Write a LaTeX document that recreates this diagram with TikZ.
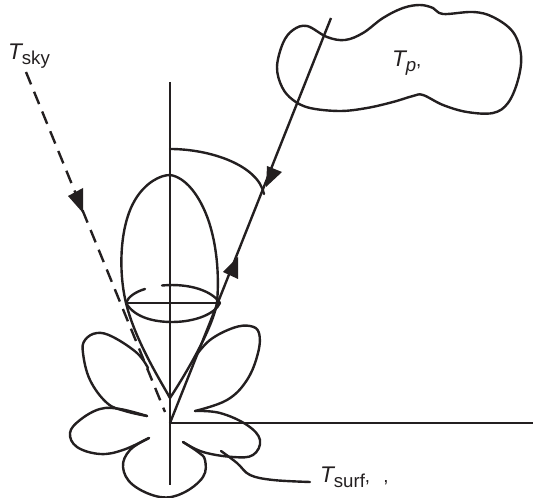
\documentclass[tikz,border=0pt]{standalone}
\usepackage{fontspec}
\setmainfont{Liberation Sans}
\definecolor{ink}{HTML}{231F20}
\newcommand{\lblT}[2]{{\fontsize{17}{18}\selectfont\itshape T}\raisebox{-3.4pt}{\fontsize{14}{15}\selectfont #1}{\fontsize{14}{15}\selectfont #2}}
\tikzset{
  curve/.style={draw=ink,line width=1.8pt,line cap=round,line join=round},
  dashline/.style={curve,line cap=butt,dash pattern=on 10pt off 6pt},
  head/.style={fill=ink,draw=none},
  lbl/.style={inner sep=0pt,outer sep=0pt,text=ink,anchor=base west}
}
\begin{document}
\begin{tikzpicture}[x=0.75pt,y=-0.75pt]
\useasboundingbox (0,0) rectangle (533,498);
% named points
\coordinate (O) at (170,423);
\coordinate (axisTop) at (170,82);
\coordinate (axisBot) at (170,485);
\coordinate (horizEnd) at (533,423);
\coordinate (rayEnd) at (331,18);
\coordinate (skyStart) at (26,72);
\coordinate (skyEnd) at (165,412);
\coordinate (lobeTip) at (170,398);
\coordinate (arcStart) at (170,149);
\coordinate (arcEnd) at (264,194);
% axes and rays
\draw[curve,line cap=butt] (axisTop) -- (axisBot);
\draw[curve,line cap=butt] (O) -- (horizEnd);
\draw[curve,line cap=butt] (rayEnd) -- (O);
\draw[dashline] (skyStart) -- (skyEnd);
% arrowheads
\fill[head] (266,187) -- (267,166) -- (282,172) -- cycle;
\fill[head] (238,257) -- (223,272) -- (238,279) -- cycle;
\fill[head] (83,213) -- (68,196) -- (83,188) -- cycle;
% angle arc
\draw[curve] (arcStart) .. controls (210,149) and (258,165) .. (arcEnd);
% main lobe
\draw[curve] (lobeTip) .. controls (160,380) and (135,340) .. (126,303)
  .. controls (118,270) and (120,225) .. (135,200)
  .. controls (145,183) and (160,175) .. (170,175)
  .. controls (185,177) and (200,195) .. (209,222)
  .. controls (218,250) and (219,280) .. (217,303)
  .. controls (212,330) and (185,375) .. cycle;
% cut ellipse
\draw[curve] (126,303) -- (220,303);
\draw[curve] (126,303) .. controls (135,318) and (155,322) .. (172,322)
  .. controls (195,322) and (215,314) .. (220,303);
\draw[curve] (126,303) .. controls (128,297) and (135,292) .. (145,289);
\draw[curve] (162,285.5) .. controls (190,283) and (212,291) .. (220,303);
% side lobes
\draw[curve] plot[smooth,tension=0.65] coordinates {(148,368) (137,353) (113,337) (97,333) (85,340) (83,353) (90,380) (107,403) (125,411) (147,416)};
\draw[curve] plot[smooth,tension=0.65] coordinates {(195,357) (210,340) (233,328) (250,326) (259,333) (258,353) (247,380) (227,400) (195,411)};
\draw[curve] plot[smooth,tension=0.65] coordinates {(147,416) (120,409) (100,409) (80,420) (70,433) (77,447) (100,454) (123,450) (149,438)};
\draw[curve] plot[smooth,tension=0.65] coordinates {(149,438) (130,450) (123,467) (133,485) (160,497) (183,493) (203,477) (205,460) (198,452) (183,442)};
\draw[curve] plot[smooth,tension=0.65] coordinates {(195,411) (220,413) (247,425) (260,440) (253,455) (233,457) (203,452) (183,442)};
% leader
\draw[curve] plot[smooth,tension=0.6] coordinates {(221,451) (237,463) (250,475) (273,480) (310,482)};
% source blob
\draw[curve] plot[smooth cycle,tension=0.6] coordinates {(307,26) (327,37) (345,40) (363,33) (383,18) (403,8) (420,5) (433,8) (443,14) (473,12) (493,17) (513,32) (521,55) (518,80) (508,103) (493,113) (467,112) (443,105) (423,95) (413,96) (393,102) (367,108) (340,111) (310,108) (293,100) (282,87) (277,67) (283,43) (293,30)};
% labels
\node[lbl] (sky) at (8,60) {\lblT{sky}{}};
\node[lbl] (tp) at (392,67) {\lblT{\itshape p}{,}};
\node[lbl] (surf) at (320,483) {\lblT{surf}{,\hspace{10pt},}};
\end{tikzpicture}
\end{document}
